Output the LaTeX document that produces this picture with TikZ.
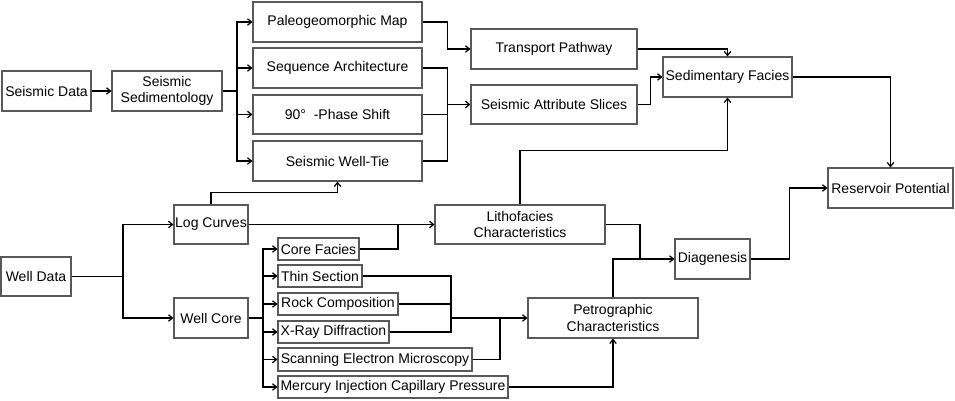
\documentclass[tikz,border=0pt]{standalone}
\usepackage{fontspec}
\setmainfont{Liberation Sans}
\usetikzlibrary{arrows.meta}
\begin{document}
\begin{tikzpicture}[x=1pt,y=-1pt,
  box/.style={draw=black!65,line width=1.1pt,inner sep=0pt,align=center,font=\fontsize{14}{16.5}\selectfont},
  ln/.style={draw=black,line width=1.25pt},
  arr/.style={ln,-{Straight Barb[length=4pt,width=6.5pt]}}]
\useasboundingbox (0,0) rectangle (955,401);
% seismic branch
\node[box,minimum width=89,minimum height=40] (sd) at (46.5,91) {Seismic Data};
\node[box,minimum width=110,minimum height=40] (ss) at (167,91) {Seismic\\Sedimentology};
\node[box,minimum width=169,minimum height=40] (pm) at (337.5,22) {Paleogeomorphic Map};
\node[box,minimum width=169,minimum height=40] (sa) at (337.5,68) {Sequence Architecture};
\node[box,minimum width=169,minimum height=39] (ps) at (337.5,114.5) {90°\ \ -Phase Shift};
\node[box,minimum width=169,minimum height=40] (wt) at (337.5,161) {Seismic Well-Tie};
\node[box,minimum width=166,minimum height=40] (tp) at (554,49) {Transport Pathway};
\node[box,minimum width=166,minimum height=39] (sas) at (554,104.5) {Seismic Attribute Slices};
\node[box,minimum width=129,minimum height=40] (sf) at (727.5,77) {Sedimentary Facies};
\node[box,minimum width=125,minimum height=40] (rp) at (890.5,188) {Reservoir Potential};
% well branch
\node[box,minimum width=70,minimum height=39] (wd) at (36,276.5) {Well Data};
\node[box,minimum width=74,minimum height=39] (lc) at (211,224.5) {Log Curves};
\node[box,minimum width=74,minimum height=40] (wc) at (211,318) {Well Core};
\node[box,minimum width=170,minimum height=39] (lf) at (520,224.5) {Lithofacies\\Characteristics};
\node[box,minimum width=81,minimum height=22] (cf) at (318.5,249) {Core Facies};
\node[box,minimum width=84,minimum height=22] (ts) at (320,276) {Thin Section};
\node[box,minimum width=120,minimum height=22] (rc) at (338,304) {Rock Composition};
\node[box,minimum width=111,minimum height=22] (xr) at (333.5,332) {X-Ray Diffraction};
\node[box,minimum width=194,minimum height=23] (sem) at (375,359.5) {Scanning Electron Microscopy};
\node[box,minimum width=230,minimum height=22] (mi) at (393,387) {Mercury Injection Capillary Pressure};
\node[box,minimum width=170,minimum height=40] (pc) at (613,318) {Petrographic\\Characteristics};
\node[box,minimum width=75,minimum height=40] (dg) at (712.5,259) {Diagenesis};
% junction coordinates
\coordinate (b1) at (237,91);
\coordinate (j1) at (447,104.5);
\coordinate (b2) at (123,276.5);
\coordinate (j2) at (398,224.5);
\coordinate (b3) at (263,318);
\coordinate (j3) at (451,318);
\coordinate (j4) at (500,318);
\coordinate (j5) at (640,259);
% seismic connectors
\draw[arr] (sd.east) -- (ss.west);
\draw[ln] (ss.east) -- (b1);
\draw[arr] (b1) |- (pm.west);
\draw[arr] (b1) |- (sa.west);
\draw[arr] (b1) |- (ps.west);
\draw[arr] (b1) |- (wt.west);
\draw[arr] (pm.east) -- ++(25,0) |- (tp.west);
\draw[ln] (sa.east) -- ++(25,0) |- (wt.east);
\draw[ln] (ps.east) -- ++(25,0);
\draw[arr] (j1) -- (sas.west);
\draw[arr] (tp.east) -| (sf.north);
\draw[arr] (sas.east) -- ++(13,0) |- (sf.west);
\draw[arr] (lf.north) -- ++(0,-54) -| (sf.south);
\draw[arr] (sf.east) -| (rp.north);
% well connectors
\draw[ln] (wd.east) -- (b2);
\draw[arr] (b2) |- (lc.west);
\draw[arr] (b2) |- (wc.west);
\draw[arr] (lc.north) -- ++(0,-12) -| (wt.south);
\draw[arr] (lc.east) -- (lf.west);
\draw[ln] (cf.east) -| (j2);
\draw[ln] (wc.east) -- (b3);
\draw[arr] (b3) |- (cf.west);
\draw[arr] (b3) |- (ts.west);
\draw[arr] (b3) |- (rc.west);
\draw[arr] (b3) |- (xr.west);
\draw[arr] (b3) |- (sem.west);
\draw[arr] (b3) |- (mi.west);
\draw[ln] (ts.east) -| (j3);
\draw[ln] (rc.east) -| (j3);
\draw[ln] (xr.east) -| (j3);
\draw[arr] (j3) -- (pc.west);
\draw[ln] (sem.east) -| (j4);
\draw[arr] (mi.east) -| (pc.south);
\draw[arr] (pc.north) |- (dg.west);
\draw[ln] (lf.east) -| (j5);
\draw[arr] (dg.east) -- ++(39,0) |- (rp.west);
\end{tikzpicture}
\end{document}
